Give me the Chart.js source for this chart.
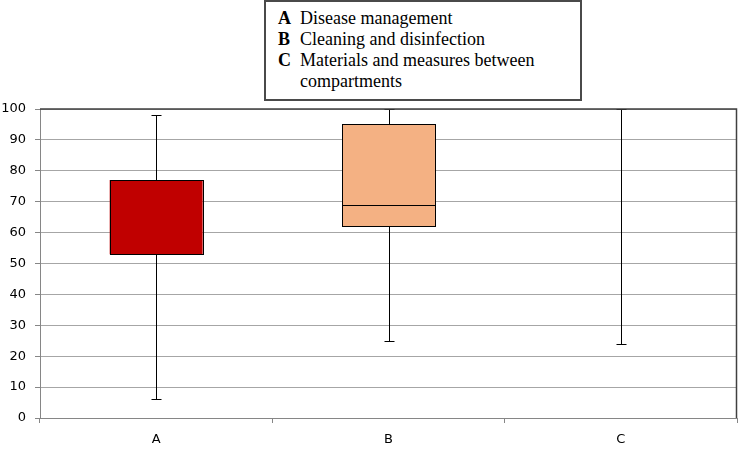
<!DOCTYPE html>
<html>
<head>
<meta charset="utf-8">
<script src="https://cdn.jsdelivr.net/npm/chart.js@4/dist/chart.umd.min.js"></script>
<style>
  html, body { margin: 0; padding: 0; background: #fff; }
  #wrap { position: relative; width: 738px; height: 450px; }
  #c { position: absolute; left: 0; top: 0; }
  #legendBox {
    position: absolute; left: 264px; top: 0px; width: 314px; height: 97px;
    border: 2px solid #4a4a4a; background: #fff;
    font-family: "Liberation Serif", "Times New Roman", serif; font-size: 18px; color: #000;
    box-sizing: content-box;
  }
  .row { position: absolute; left: 12px; display: flex; line-height: 21px; white-space: nowrap; }
  .row b { display: inline-block; width: 22px; }
</style>
</head>
<body>
<div id="wrap">
  <canvas id="c" width="738" height="450"></canvas>
  <div id="legendBox"></div>
</div>
<script>
// ---- data ----
const categories = ['A', 'B', 'C'];
const q1Values = [53, 62, null];
const q3Values = [77, 95, null];
const medianValues = [53, 69, null];
const minValues = [6, 25, 24];
const maxValues = [98, 100, 100];
const boxColors = ['#C00000', '#F4B183', '#FFFFFF'];
const legendKeys = ['A', 'B', 'C'];
const legendTexts = ['Disease management', 'Cleaning and disinfection', 'Materials and measures between\ncompartments'];

// ---- legend box (real text) ----
const lb = document.getElementById('legendBox');
let topPos = 6;
legendKeys.forEach((k, i) => {
  const row = document.createElement('div');
  row.className = 'row';
  row.style.top = topPos + 'px';
  const b = document.createElement('b');
  b.textContent = k;
  const s = document.createElement('span');
  s.innerHTML = legendTexts[i].split('\n').join('<br>');
  row.appendChild(b); row.appendChild(s);
  lb.appendChild(row);
  topPos += 21;
});

// ---- plugins ----
const whiskerPlugin = {
  id: 'whiskers',
  beforeDatasetsDraw(chart) {
    const ctx = chart.ctx;
    const xs = chart.scales.x, ys = chart.scales.y;
    ctx.save();
    ctx.strokeStyle = '#000';
    ctx.lineWidth = 1;
    categories.forEach((c, i) => {
      if (minValues[i] == null) return;
      const x = Math.round(xs.getPixelForValue(i)) + 0.5;
      const y1 = Math.round(ys.getPixelForValue(minValues[i])) + 0.5;
      const y2 = Math.round(ys.getPixelForValue(maxValues[i])) + 0.5;
      ctx.beginPath();
      ctx.moveTo(x, y1); ctx.lineTo(x, y2);
      ctx.moveTo(x - 5, y1); ctx.lineTo(x + 5, y1);
      ctx.moveTo(x - 5, y2); ctx.lineTo(x + 5, y2);
      ctx.stroke();
    });
    ctx.restore();
  },
  afterDatasetsDraw(chart) {
    const ctx = chart.ctx;
    const ys = chart.scales.y;
    const meta = chart.getDatasetMeta(0);
    ctx.save();
    ctx.strokeStyle = '#000';
    ctx.lineWidth = 1;
    categories.forEach((c, i) => {
      const el = meta.data[i];
      if (!el || q1Values[i] == null) return;
      const l = Math.round(el.x - el.width / 2) + 0.5;
      const r = Math.round(el.x + el.width / 2) + 0.5;
      const t = Math.round(ys.getPixelForValue(q3Values[i])) + 0.5;
      const b = Math.round(ys.getPixelForValue(q1Values[i])) + 0.5;
      ctx.strokeRect(l, t, r - l, b - t);
      if (medianValues[i] != null) {
        const y = Math.round(ys.getPixelForValue(medianValues[i])) + 0.5;
        ctx.beginPath();
        ctx.moveTo(l, y);
        ctx.lineTo(r, y);
        ctx.stroke();
      }
    });
    // plot frame top & right
    const a = chart.chartArea;
    ctx.strokeStyle = '#404040';
    ctx.lineWidth = 1.5;
    ctx.beginPath();
    ctx.moveTo(a.left, a.top);
    ctx.lineTo(a.right - 0.5, a.top);
    ctx.lineTo(a.right - 0.5, a.bottom);
    ctx.stroke();
    ctx.restore();
  }
};

new Chart(document.getElementById('c'), {
  type: 'bar',
  data: {
    labels: categories,
    datasets: [{
      data: categories.map((c, i) => q1Values[i] == null ? null : [q1Values[i], q3Values[i]]),
      backgroundColor: boxColors,
      borderWidth: 0,
      borderSkipped: false,
      barPercentage: 1,
      categoryPercentage: 0.4
    }]
  },
  options: {
    responsive: false,
    devicePixelRatio: 1,
    animation: false,
    layout: { padding: { top: 109, right: 1, left: 0, bottom: 0 } },
    plugins: { legend: { display: false }, tooltip: { enabled: false } },
    scales: {
      x: {
        offset: true,
        grid: { offset: true, drawOnChartArea: false, drawTicks: true, tickLength: 5, color: '#868686' },
        border: { color: '#868686', width: 1 },
        ticks: { color: '#000', font: { family: 'DejaVu Sans', size: 13 }, padding: 9 },
        afterFit(s) { s.height = 32; }
      },
      y: {
        min: 0, max: 100,
        ticks: { stepSize: 10, color: '#000', font: { family: 'DejaVu Sans', size: 13 }, padding: 9 },
        grid: { color: '#a6a6a6', tickLength: 5, tickColor: '#868686' },
        border: { color: '#868686', width: 1 },
        afterFit(s) { s.width = 40; }
      }
    }
  },
  plugins: [whiskerPlugin]
});
</script>
</body>
</html>
